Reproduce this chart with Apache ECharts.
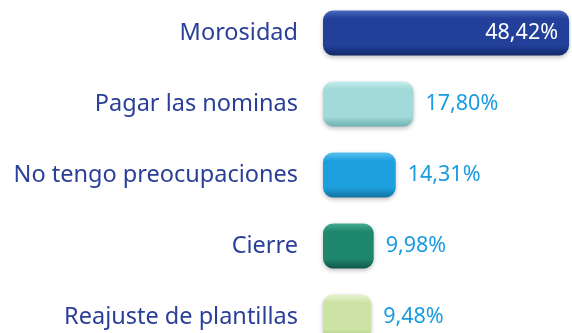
<!DOCTYPE html>
<html>
<head>
<meta charset="utf-8">
<script src="https://cdn.jsdelivr.net/npm/echarts@6/dist/echarts.min.js"></script>
<style>
  html, body { margin: 0; padding: 0; background: #ffffff; }
  #chart { width: 572px; height: 333px; }
</style>
</head>
<body>
<div id="chart"></div>
<script>
// Concerns, share of responses (%)
const categories = ['Morosidad', 'Pagar las nominas', 'No tengo preocupaciones', 'Cierre', 'Reajuste de plantillas'];
const values = [48.42, 17.80, 14.31, 9.98, 9.48];

// Bar palette: [top highlight, body, bottom edge]
const barColors = [
  ['#4a68bf', '#22409a', '#132868'],
  ['#c6eded', '#a2d9d9', '#6eb2b2'],
  ['#5cc0ee', '#1e9fde', '#13729f'],
  ['#46ab90', '#1f876d', '#11574a'],
  ['#e6f3cd', '#cde3a6', '#9fbf77']
];

function gradient(c) {
  return new echarts.graphic.LinearGradient(0, 0, 0, 1, [
    { offset: 0, color: c[0] },
    { offset: 0.18, color: c[1] },
    { offset: 0.78, color: c[1] },
    { offset: 1, color: c[2] }
  ]);
}

function fmt(v) {
  return v.toFixed(2).replace('.', ',') + '%';
}

const data = values.map((v, i) => ({
  value: v,
  itemStyle: {
    color: gradient(barColors[i]),
    borderRadius: 10,
    shadowColor: 'rgba(0,0,0,0.25)',
    shadowBlur: 4,
    shadowOffsetY: 2
  },
  label: i === 0
    ? { position: 'insideRight', color: '#ffffff', distance: 11 }
    : { position: 'right', color: '#1b9be0', distance: 12 }
}));

const chart = echarts.init(document.getElementById('chart'), null, { renderer: 'canvas' });
chart.setOption({
  animation: false,
  grid: {
    left: 323, right: 0, top: -2.5, bottom: -19.5,
    containLabel: false,
    outerBoundsMode: 'none'
  },
  xAxis: {
    type: 'value',
    min: 0,
    max: 49,
    show: false
  },
  yAxis: {
    type: 'category',
    inverse: true,
    data: categories,
    axisLine: { show: false },
    axisTick: { show: false },
    axisLabel: {
      margin: 25,
      color: '#2a3f98',
      fontSize: 23.5,
      fontFamily: 'Noto Sans'
    }
  },
  series: [{
    type: 'bar',
    data: data,
    barWidth: 45,
    label: {
      show: true,
      fontSize: 21.5,
      fontFamily: 'Noto Sans',
      formatter: p => fmt(p.value)
    }
  }]
});
</script>
</body>
</html>
